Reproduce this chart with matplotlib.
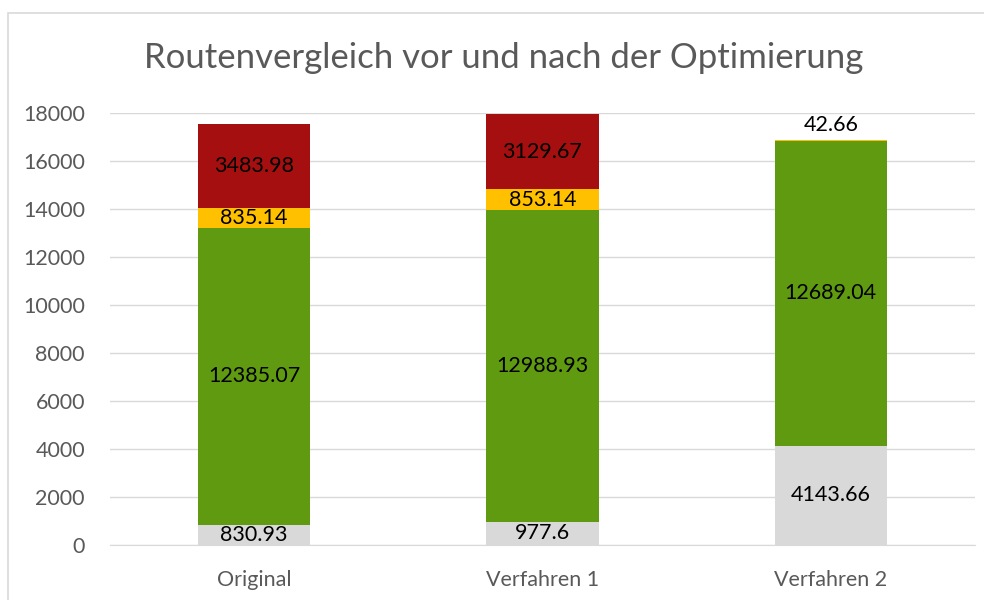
import matplotlib
matplotlib.use('agg')
import matplotlib.pyplot as plt
from matplotlib.patches import Rectangle
import numpy as np

categories = ['Original', 'Verfahren 1', 'Verfahren 2']
grey_vals = [830.93, 977.6, 4143.66]
green_vals = [12385.07, 12988.93, 12689.04]
yellow_vals = [835.14, 853.14, 42.66]
red_vals = [3483.98, 3129.67, 0]
yticks = [0, 2000, 4000, 6000, 8000, 10000, 12000, 14000, 16000, 18000]

plt.rcParams['font.family'] = ['Lato', 'DejaVu Sans']

fig = plt.figure(figsize=(9.84, 6.0), dpi=100)
ax = fig.add_axes([110 / 984, 55 / 600, 865 / 984, 432 / 600])

# outer chart border
fig.patches.append(Rectangle((8 / 984, -0.05), 1.0, (600 - 13) / 600 + 0.05,
                             transform=fig.transFigure, fill=False,
                             edgecolor='#D9D9D9', lw=1.2))

x = np.arange(len(categories))
w = 0.39
series = [(grey_vals, '#D9D9D9'), (green_vals, '#5F9A11'),
          (yellow_vals, '#FFC000'), (red_vals, '#A50F0F')]
bottom = np.zeros(len(categories))
for vals, col in series:
    vals = np.array(vals)
    ax.bar(x, vals, w, bottom=bottom, color=col, zorder=3)
    for i, v in enumerate(vals):
        if v == 0:
            continue
        if v < 300:
            ax.text(x[i], bottom[i] + v + 200, str(v), ha='center', va='bottom',
                    fontsize=15.5, color='black', zorder=4)
        else:
            ax.text(x[i], bottom[i] + v / 2, str(v), ha='center', va='center',
                    fontsize=15.5, color='black', zorder=4)
    bottom += vals

ax.set_xlim(-0.5, 2.5)
ax.set_ylim(0, 18000)
ax.set_yticks(yticks)
ax.set_xticks(x)
ax.set_xticklabels(categories)
ax.grid(axis='y', color='#D9D9D9', lw=1, zorder=0)
for s in ['top', 'right', 'left']:
    ax.spines[s].set_visible(False)
ax.spines['bottom'].set_color('#D9D9D9')
ax.tick_params(axis='both', length=0, labelsize=15.5, colors='#595959')
ax.tick_params(axis='y', pad=18)
ax.tick_params(axis='x', pad=18)

fig.text(0.512, 0.903, 'Routenvergleich vor und nach der Optimierung',
         ha='center', va='center', fontsize=25, color='#595959')

fig.savefig('out.png', dpi=100)
